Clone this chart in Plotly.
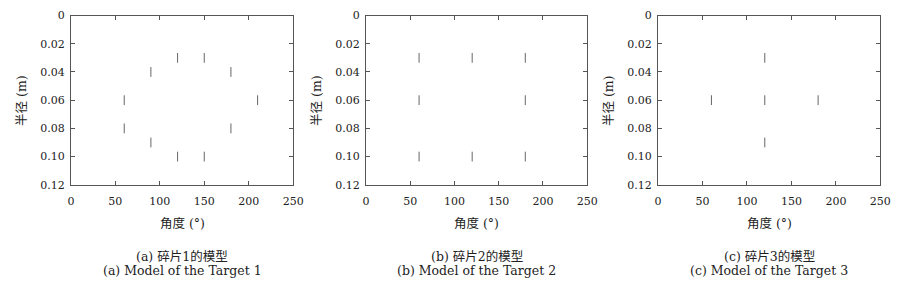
import plotly.graph_objects as go

# Data: (angle in degrees, radius in m) for each target model
t1_angle = [120, 150, 90, 180, 60, 210, 60, 180, 90, 120, 150]
t1_radius = [0.03, 0.03, 0.04, 0.04, 0.06, 0.06, 0.08, 0.08, 0.09, 0.10, 0.10]

t2_angle = [60, 120, 180, 60, 180, 60, 120, 180]
t2_radius = [0.03, 0.03, 0.03, 0.06, 0.06, 0.10, 0.10, 0.10]

t3_angle = [120, 60, 120, 180, 120]
t3_radius = [0.03, 0.06, 0.06, 0.06, 0.09]

x_ticks = [0, 50, 100, 150, 200, 250]
y_ticks = [0, 0.02, 0.04, 0.06, 0.08, 0.10, 0.12]
y_ticktext = ["0", "0.02", "0.04", "0.06", "0.08", "0.10", "0.12"]

captions_cn = ["(a) 碎片1的模型", "(b) 碎片2的模型", "(c) 碎片3的模型"]
captions_en = ["(a) Model of the Target 1", "(b) Model of the Target 2", "(c) Model of the Target 3"]
x_title = "角度 (°)"
y_title = "半径 (m)"

W, H = 913, 296
FONT = "'DejaVu Serif', 'Liberation Serif', 'Noto Sans CJK SC', serif"
AXC = "#555555"
TXT = "#222222"

panels = [(t1_angle, t1_radius), (t2_angle, t2_radius), (t3_angle, t3_radius)]
x_px = [(68, 294), (368, 593), (665, 891)]
y_top, y_bot = 10, 187
ydom = [1 - y_bot / H, 1 - y_top / H]

fig = go.Figure()
annotations = []


def ann(x, y, text, size, angle=0):
    return dict(x=x / W, y=1 - y / H, xref="paper", yref="paper", text=text,
                xanchor="center", yanchor="middle", textangle=angle, showarrow=False,
                font=dict(family=FONT, size=size, color=TXT))


for i, (xs, ys) in enumerate(panels):
    n = "" if i == 0 else str(i + 1)
    fig.add_trace(go.Scatter(
        x=xs, y=ys, mode="markers",
        xaxis="x" + n, yaxis="y" + n,
        marker=dict(symbol="line-ns", size=7, line=dict(width=1, color="#666666"), color="#666666"),
        showlegend=False, hoverinfo="skip",
    ))
    l, r = x_px[i]
    common = dict(showgrid=False, zeroline=False, showline=True, linecolor=AXC, linewidth=1,
                  mirror="ticks", ticks="inside", ticklen=4, tickcolor=AXC,
                  tickfont=dict(family=FONT, size=11, color=TXT))
    fig.update_layout(**{
        "xaxis" + n: dict(domain=[l / W, r / W], range=[0, 250], tickvals=x_ticks,
                          anchor="y" + n, ticklabelstandoff=6, **common),
        "yaxis" + n: dict(domain=ydom, range=[0.12, 0], tickvals=y_ticks, ticktext=y_ticktext,
                          anchor="x" + n, ticklabelstandoff=3, **common),
    })
    cx = (l + r) / 2
    annotations.append(ann(cx, 227, x_title, 12.5))
    annotations.append(ann(l - 51, (y_top + y_bot) / 2, y_title, 12.5, -90))
    annotations.append(ann(cx, 262, captions_cn[i], 12.5))
    annotations.append(ann(cx, 277, captions_en[i], 12.5))

fig.update_layout(width=W, height=H, margin=dict(l=0, r=0, t=0, b=0),
                  paper_bgcolor="white", plot_bgcolor="white", annotations=annotations)
fig.write_html("out.html")
